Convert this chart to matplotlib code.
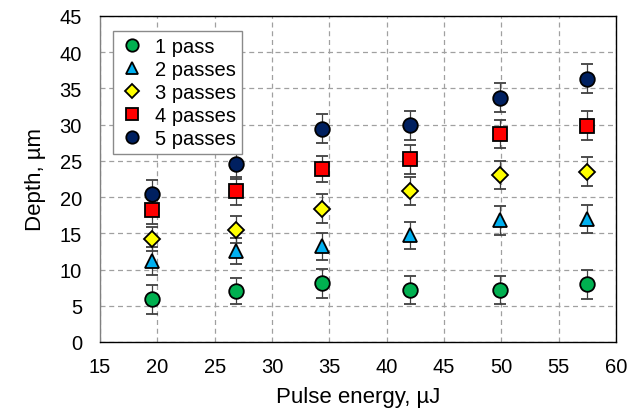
import numpy as np
import matplotlib
matplotlib.use("Agg")
import matplotlib.pyplot as plt

plt.rcParams['font.family'] = ['Liberation Sans', 'DejaVu Sans']

# pulse energy (uJ)
energy = [19.5, 26.9, 34.4, 42.0, 49.9, 57.5]

# depth (um) per number of passes
pass1 = [5.9, 7.0, 8.1, 7.2, 7.2, 8.0]
pass2 = [11.2, 12.5, 13.2, 14.7, 16.8, 17.0]
pass3 = [14.2, 15.5, 18.4, 20.8, 23.0, 23.5]
pass4 = [18.2, 20.8, 23.9, 25.2, 28.7, 29.8]
pass5 = [20.4, 24.5, 29.4, 29.9, 33.7, 36.3]

err1 = [2.0, 1.8, 2.0, 1.9, 1.9, 2.0]
err2 = [1.9, 1.8, 1.9, 1.9, 2.0, 1.9]
err3 = [1.7, 1.9, 2.0, 1.9, 1.9, 2.0]
err4 = [1.9, 1.9, 1.8, 2.0, 1.9, 2.0]
err5 = [2.0, 2.0, 2.0, 2.0, 2.0, 2.0]

labels = ['1 pass', '2 passes', '3 passes', '4 passes', '5 passes']

fig = plt.figure(figsize=(6.41, 4.14), dpi=100)
ax = fig.add_axes([0.156, 0.1715, 0.805, 0.788])

series = [
    (pass1, err1, 'o', '#00B050', 10.5),
    (pass2, err2, '^', '#00B0F0', 10.5),
    (pass3, err3, 'D', '#FFFF00', 8),
    (pass4, err4, 's', '#FF0000', 10),
    (pass5, err5, 'o', '#002060', 10.5),
]

for (vals, err, mk, col, ms), lab in zip(series, labels):
    ax.errorbar(energy, vals, yerr=err, fmt=mk, color=col, mfc=col, mec='black',
                mew=1.3, ms=ms, ecolor='#404040', elinewidth=0.9, capsize=4,
                capthick=0.9, label=lab, zorder=3)

ax.set_xlim(15, 60)
ax.set_ylim(0, 45)
ax.set_xticks(np.arange(15, 61, 5))
ax.set_yticks(np.arange(0, 46, 5))
ax.grid(True, linestyle=(0, (4, 3)), color='#a0a0a0', linewidth=0.9)
ax.set_axisbelow(True)
ax.tick_params(labelsize=14.5, length=0)
ax.tick_params(axis='y', pad=13)
ax.tick_params(axis='x', pad=11)
for s in ax.spines.values():
    s.set_linewidth(1.0)
    s.set_color('black')
ax.spines['left'].set_color('#808080')

ax.set_xlabel('Pulse energy, µJ', fontsize=16, labelpad=7)
ax.set_ylabel('Depth, µm', fontsize=16, labelpad=10)

handles, labs = ax.get_legend_handles_labels()
handles = [h[0] for h in handles]
leg = ax.legend(handles, labs, loc='upper left', bbox_to_anchor=(0.005, 0.985),
                fontsize=14.5, frameon=True, fancybox=False, edgecolor='#8a8a8a',
                framealpha=1, handletextpad=0.5, labelspacing=0.2,
                borderpad=0.3, handlelength=1.3, markerscale=0.85)
leg.get_frame().set_linewidth(1.0)

fig.savefig('out.png', dpi=100)
